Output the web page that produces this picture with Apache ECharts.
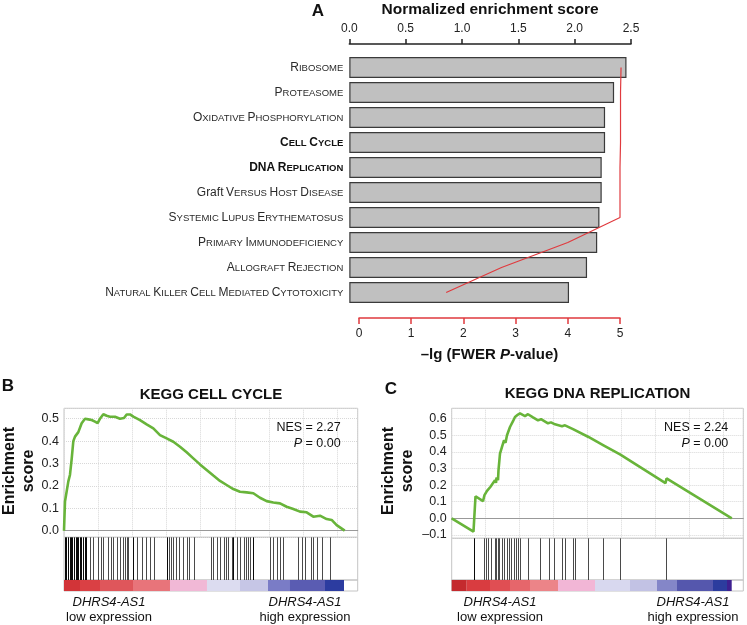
<!DOCTYPE html>
<html>
<head>
<meta charset="utf-8">
<title>GSEA DHRS4-AS1</title>
<script src="https://cdn.jsdelivr.net/npm/echarts@6/dist/echarts.min.js"></script>
<style>
  html, body { margin: 0; padding: 0; background: #fff; }
  #main { width: 747px; height: 625px; }
</style>
</head>
<body>
<div id="main"></div>
<script>
// ---- panel A data ----
const pathways = ['Ribosome', 'Proteasome', 'Oxidative Phosphorylation', 'Cell Cycle', 'DNA Replication',
  'Graft Versus Host Disease', 'Systemic Lupus Erythematosus', 'Primary Immunodeficiency',
  'Allograft Rejection', 'Natural Killer Cell Mediated Cytotoxicity'];
const boldPathways = ['Cell Cycle', 'DNA Replication'];
const nesValues = [2.46, 2.35, 2.27, 2.27, 2.24, 2.24, 2.22, 2.2, 2.11, 1.95];
const fwerLogP = [5.02, 5.01, 5.01, 5.01, 5.0, 5.0, 5.0, 4.0, 2.73, 1.67];

// ---- panel B: KEGG cell cycle ----
const ccCurve = [[0, 0], [73, 0.13], [195, 0.137], [317, 0.22], [439, 0.25], [561, 0.32], [683, 0.40],
  [805, 0.42], [1049, 0.44], [1293, 0.48], [1537, 0.50], [1781, 0.497], [2025, 0.494], [2269, 0.487],
  [2464, 0.48], [2635, 0.50], [2879, 0.52], [3123, 0.513], [3367, 0.509], [3733, 0.509], [4099, 0.50],
  [4392, 0.503], [4587, 0.519], [4831, 0.519], [5075, 0.509], [5563, 0.494], [6051, 0.475], [6539, 0.457],
  [7027, 0.427], [7515, 0.412], [8003, 0.397], [8491, 0.375], [8979, 0.35], [9467, 0.323], [9955, 0.296],
  [10443, 0.271], [10931, 0.246], [11419, 0.222], [11907, 0.204], [12395, 0.186], [12883, 0.174],
  [13371, 0.171], [13859, 0.167], [14347, 0.147], [14835, 0.132], [15323, 0.126], [15811, 0.122],
  [16299, 0.107], [16787, 0.097], [17275, 0.085], [17763, 0.082], [18251, 0.0625], [18739, 0.067],
  [19227, 0.052], [19593, 0.048], [19959, 0.025], [20550, 0]];
const ccHitsDark = [73, 183, 293, 403, 512, 622, 732, 842, 952, 1061, 1171, 1281, 1391, 1501, 1610,
  5051, 7518, 12393, 13813];
const ccHitsLight = [1903, 2145, 2511, 2686, 2877, 3243, 3418, 3609, 3902, 4099, 4319, 4465, 4612, 4721,
  5322, 5688, 6002, 6295, 6610, 7686, 7810, 8001, 8198, 8440, 8689, 8982, 9172, 9516, 10738, 10929,
  11178, 11419, 11712, 11858, 12027, 12276, 12642, 12883, 13176, 13322, 13491, 13615, 15079, 15321,
  15614, 15811, 16053, 17151, 17400, 17641, 18058, 18249, 18498, 18864, 19471];
const ccBarEdges = [0, 1171, 2635, 5051, 7759, 10467, 12883, 14933, 16544, 19106, 20497];
const ccBarColors = ['#d23438', '#da4044', '#df565b', '#e8747a', '#f1b8d6', '#dcdcf0', '#c6c6e6',
  '#7a7cc6', '#5a5cb2', '#2c3ca0'];

// ---- panel C: KEGG DNA replication ----
const drCurve = [[0, 0], [1607, -0.08], [1755, 0.133], [2308, 0.103], [2418, 0.14], [2529, 0.133],
  [2603, 0.165], [2750, 0.157], [2861, 0.19], [3008, 0.18], [3193, 0.23], [3266, 0.214], [3303, 0.245],
  [3414, 0.23], [3451, 0.29], [3561, 0.39], [3709, 0.43], [3856, 0.47], [3967, 0.455], [4077, 0.50],
  [4188, 0.51], [4298, 0.55], [4520, 0.585], [4667, 0.61], [4888, 0.625], [5036, 0.632], [5404, 0.616],
  [5626, 0.627], [5994, 0.608], [6363, 0.59], [6584, 0.597], [7100, 0.572], [7321, 0.578], [7616, 0.566],
  [8133, 0.555], [8354, 0.56], [8944, 0.537], [9091, 0.54], [10086, 0.49], [10160, 0.50], [11192, 0.44],
  [11266, 0.45], [12409, 0.385], [12483, 0.395], [15764, 0.212], [15838, 0.24], [20650, 0]];
const drHitsDark = [1681];
const drHitsLight = [2381, 2529, 2713, 2861, 3193, 3303, 3414, 3524, 3709, 3856, 4077, 4225, 4372, 4593,
  4741, 4888, 5036, 5589, 6547, 7174, 7543, 8133, 8317, 8944, 9091, 10086, 11192, 12409, 15800];
const drBarEdges = [0, 1106, 2824, 4298, 5773, 7837, 10565, 13146, 15137, 16612, 19266, 20298, 20645];
const drBarColors = ['#c42a2e', '#d93c40', '#e04e53', '#e6666b', '#ec8488', '#f2b6d6', '#d8d8ef',
  '#c2c2e4', '#8486c8', '#5557ad', '#2c3c9e', '#3e2090'];

const rankMax = 21500;
const font = '"Liberation Sans", Arial, sans-serif';
const boxColor = '#c4c4c4';
const gridColor = '#d8d8d8';

// labels drawn in small caps, like the figure
function smallCaps(name) {
  const bold = boldPathways.includes(name);
  const b = bold ? 'bb' : 'b';
  const s = bold ? 'sb' : 's';
  return name.split(' ').map(function (w) {
    if (w === w.toUpperCase() || w === 'Graft') return '{' + b + '|' + w + '}';
    return '{' + b + '|' + w[0] + '}{' + s + '|' + w.slice(1).toUpperCase() + '}';
  }).join('{' + s + '| }');
}

function esLabel(v) {
  const r = Math.round(v * 10) / 10;
  if (Math.abs(v - r) > 1e-6) return '';
  return r < 0 ? '\u2013' + Math.abs(r).toFixed(1) : r.toFixed(1);
}

function hitRenderer(params, api) {
  const top = api.coord([api.value(0), 1]);
  const bottom = api.coord([api.value(0), 0]);
  const x = Math.round(top[0]) + 0.5;
  return {
    type: 'line',
    shape: { x1: x, y1: top[1], x2: x, y2: bottom[1] },
    style: { stroke: api.visual('color'), lineWidth: 1 }
  };
}

function blockRenderer(colors) {
  return function (params, api) {
    const a = api.coord([api.value(0), 1]);
    const b = api.coord([api.value(1), 0]);
    return {
      type: 'rect',
      shape: { x: a[0], y: a[1], width: b[0] - a[0], height: b[1] - a[1] },
      style: { fill: colors[api.value(2)] }
    };
  };
}

const grids = [
  { left: 349.3, top: 55, width: 281.7, height: 250, outerBoundsMode: 'none' },
  { left: 359, top: 55, width: 261, height: 250, outerBoundsMode: 'none' }
];
const xAxes = [
  {
    gridIndex: 0, type: 'value', position: 'top', min: 0, max: 2.5, interval: 0.5, offset: 11,
    axisLine: { show: true, lineStyle: { color: '#222', width: 1.5 } },
    axisTick: { show: true, length: 5, lineStyle: { color: '#222', width: 1.5 } },
    axisLabel: { formatter: function (v) { return v.toFixed(1); }, fontSize: 12, color: '#222', margin: 9 },
    splitLine: { show: false },
    name: 'Normalized enrichment score', nameLocation: 'middle', nameGap: 26,
    nameTextStyle: { fontSize: 15.5, fontWeight: 'bold', color: '#111' }
  },
  {
    gridIndex: 1, type: 'value', position: 'bottom', min: 0, max: 5, interval: 1, offset: 13,
    axisLine: { show: true, lineStyle: { color: '#e03a3e', width: 1.5 } },
    axisTick: { show: true, length: 6, lineStyle: { color: '#e03a3e', width: 1.5 } },
    axisLabel: { fontSize: 12, color: '#222', margin: 10 },
    splitLine: { show: false },
    name: '\u2013lg (FWER {i|P}-value)', nameLocation: 'middle', nameGap: 29,
    nameTextStyle: {
      fontSize: 15, fontWeight: 'bold', color: '#111',
      rich: { i: { fontSize: 15, fontWeight: 'bold', fontStyle: 'italic', color: '#111' } }
    }
  }
];
const yAxes = [
  {
    gridIndex: 0, type: 'category', inverse: true, data: pathways,
    axisLine: { show: false }, axisTick: { show: false }, splitLine: { show: false },
    axisLabel: {
      margin: 6, formatter: smallCaps,
      rich: {
        b: { fontSize: 12, color: '#2a2a2a', verticalAlign: 'bottom' },
        s: { fontSize: 9.5, color: '#2a2a2a', verticalAlign: 'bottom' },
        bb: { fontSize: 12, color: '#111', fontWeight: 'bold', verticalAlign: 'bottom' },
        sb: { fontSize: 9.5, color: '#111', fontWeight: 'bold', verticalAlign: 'bottom' }
      }
    }
  },
  { gridIndex: 1, type: 'category', inverse: true, data: pathways, show: false }
];
const series = [
  {
    type: 'bar', xAxisIndex: 0, yAxisIndex: 0, data: nesValues, barWidth: 21,
    itemStyle: { color: '#c0c0c0', borderColor: '#3a3a3a', borderWidth: 1.2 }
  },
  {
    type: 'line', xAxisIndex: 1, yAxisIndex: 1, data: fwerLogP, symbol: 'none', z: 5,
    lineStyle: { color: '#e03a3e', width: 1.2 }
  }
];

// one GSEA panel = running score grid, hit barcode grid, ranked-list colour strip
function addGseaPanel(p) {
  const g = grids.length;
  grids.push(
    { left: p.left, top: 408.3, width: p.width, height: p.esBottom - 408.3, show: true, borderColor: boxColor, borderWidth: 1, outerBoundsMode: 'none' },
    { left: p.left, top: p.esBottom, width: p.width, height: 580 - p.esBottom, show: true, borderColor: boxColor, borderWidth: 1, outerBoundsMode: 'none' },
    { left: p.left, top: 580, width: p.width, height: 11, show: true, borderColor: boxColor, borderWidth: 1, outerBoundsMode: 'none' }
  );
  const hidden = { axisLine: { show: false }, axisTick: { show: false }, axisLabel: { show: false }, splitLine: { show: false } };
  xAxes.push(
    {
      gridIndex: g, type: 'value', min: 0, max: rankMax, interval: 2500,
      axisLine: { show: true, onZero: true, lineStyle: { color: '#999', width: 1 } },
      axisTick: { show: false }, axisLabel: { show: false },
      splitLine: { show: true, lineStyle: { color: gridColor, type: 'dotted' } }
    },
    Object.assign({ gridIndex: g + 1, type: 'value', min: 0, max: rankMax }, hidden),
    Object.assign({ gridIndex: g + 2, type: 'value', min: 0, max: rankMax }, hidden)
  );
  yAxes.push(
    {
      gridIndex: g, type: 'value', min: p.yMin, max: p.yMax, splitNumber: 6, minInterval: 0.1, maxInterval: 0.1,
      axisLine: { show: false }, axisTick: { show: false },
      axisLabel: { showMinLabel: false, showMaxLabel: false, formatter: esLabel, fontSize: 12.5, color: '#222', margin: 5 },
      splitLine: { show: true, lineStyle: { color: gridColor, type: 'dotted' } }
    },
    Object.assign({ gridIndex: g + 1, type: 'value', min: 0, max: 1 }, hidden),
    Object.assign({ gridIndex: g + 2, type: 'value', min: 0, max: 1 }, hidden)
  );
  series.push(
    {
      type: 'line', xAxisIndex: g, yAxisIndex: g, data: p.curve, showSymbol: false, z: 5,
      lineStyle: { color: '#68b43a', width: 2.6 }
    },
    {
      type: 'custom', xAxisIndex: g + 1, yAxisIndex: g + 1, renderItem: hitRenderer,
      data: p.hitsLight.map(function (r) { return [r, 0]; }), itemStyle: { color: '#4a4a4a' }
    },
    {
      type: 'custom', xAxisIndex: g + 1, yAxisIndex: g + 1, renderItem: hitRenderer,
      data: p.hitsDark.map(function (r) { return [r, 0]; }), itemStyle: { color: '#0a0a0a' }
    },
    {
      type: 'custom', xAxisIndex: g + 2, yAxisIndex: g + 2, renderItem: blockRenderer(p.colors),
      data: p.edges.slice(0, -1).map(function (e, i) { return [e, p.edges[i + 1], i]; })
    }
  );
}

addGseaPanel({
  left: 64, width: 293.7, esBottom: 537.3, yMin: -0.0295, yMax: 0.5464,
  curve: ccCurve, hitsDark: ccHitsDark, hitsLight: ccHitsLight, edges: ccBarEdges, colors: ccBarColors
});
addGseaPanel({
  left: 451.7, width: 291.6, esBottom: 538.3, yMin: -0.1205, yMax: 0.6627,
  curve: drCurve, hitsDark: drHitsDark, hitsLight: drHitsLight, edges: drBarEdges, colors: drBarColors
});

function txt(text, x, y, f, align, extra) {
  return Object.assign({
    type: 'text', x: x, y: y, z: 10,
    style: { text: text, font: f + ' ' + font, fill: '#111', textAlign: align || 'center', textVerticalAlign: 'middle' }
  }, extra || {});
}
function rotTxt(x, y) {
  return {
    type: 'text', x: x, y: y, rotation: Math.PI / 2, z: 10,
    style: { text: 'Enrichment\nscore', font: 'bold 16px ' + font, fill: '#111', textAlign: 'center', textVerticalAlign: 'middle', lineHeight: 19 }
  };
}
function pTxt(x, y) {
  const t = txt('{i|P} = 0.00', x, y, '12.5px', 'right');
  t.style.rich = { i: { fontStyle: 'italic', fontSize: 12.5, fontFamily: font, fill: '#111' } };
  return t;
}

const graphics = [
  txt('A', 318, 11, 'bold 17px'),
  txt('B', 8, 386, 'bold 17px'),
  txt('C', 391, 389, 'bold 17px'),
  txt('KEGG CELL CYCLE', 211, 395, 'bold 15px'),
  txt('KEGG DNA REPLICATION', 597.5, 394, 'bold 15px'),
  rotTxt(19.5, 471),
  rotTxt(398.5, 471),
  txt('NES = 2.27', 340.7, 428, '12.5px', 'right'),
  pTxt(340.7, 444),
  txt('NES = 2.24', 728.3, 428, '12.5px', 'right'),
  pTxt(728.3, 443.5),
  txt('DHRS4-AS1', 109, 602, 'italic 13px'),
  txt('low expression', 109, 617, '13px'),
  txt('DHRS4-AS1', 305, 602, 'italic 13px'),
  txt('high expression', 305, 617, '13px'),
  txt('DHRS4-AS1', 500, 602, 'italic 13px'),
  txt('low expression', 500, 617, '13px'),
  txt('DHRS4-AS1', 693, 602, 'italic 13px'),
  txt('high expression', 693, 617, '13px')
];

const chart = echarts.init(document.getElementById('main'), null, { renderer: 'canvas' });
chart.setOption({
  animation: false,
  backgroundColor: '#fff',
  textStyle: { fontFamily: font },
  grid: grids,
  xAxis: xAxes,
  yAxis: yAxes,
  series: series,
  graphic: graphics
});
</script>
</body>
</html>
